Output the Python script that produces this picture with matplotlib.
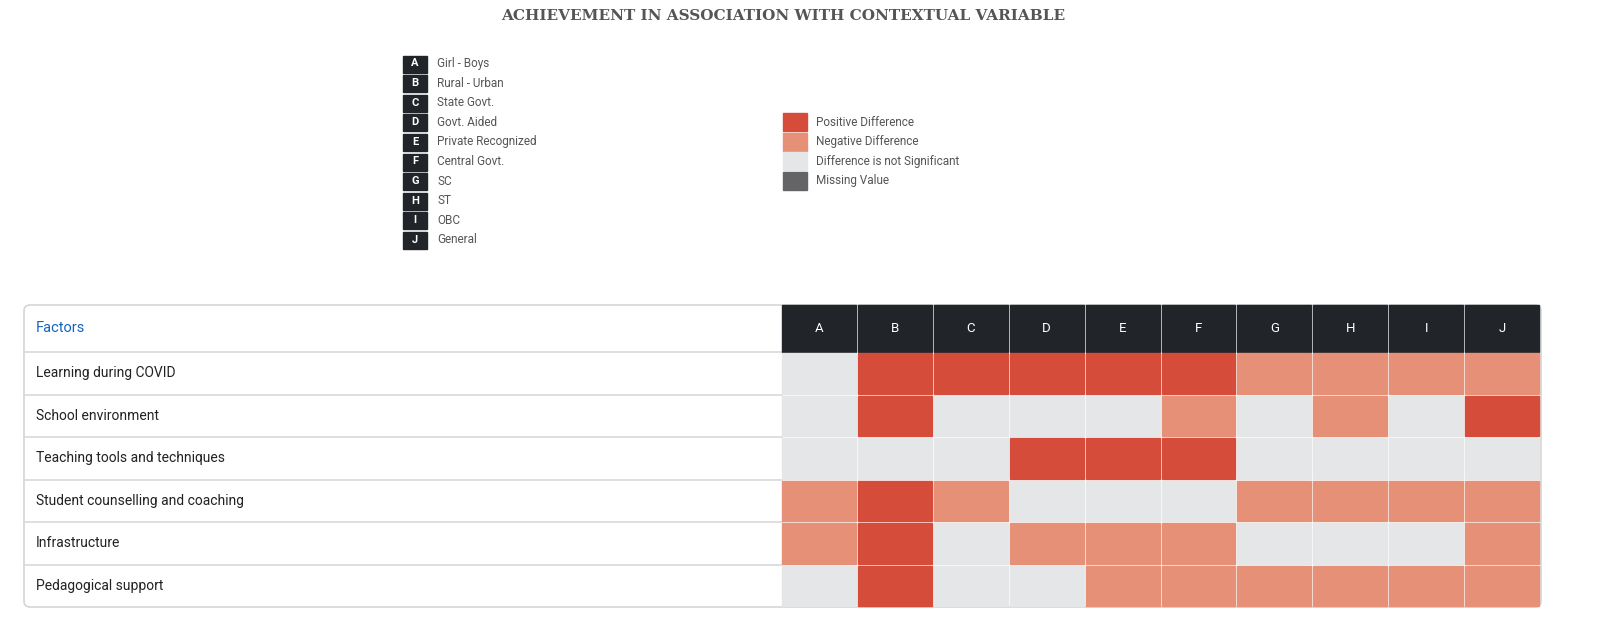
import matplotlib
matplotlib.use("Agg")
import matplotlib.pyplot as plt
from matplotlib.patches import Rectangle, FancyBboxPatch

plt.rcParams["font.family"] = ["Roboto", "DejaVu Sans"]

CODES = ["A", "B", "C", "D", "E", "F", "G", "H", "I", "J"]
CODE_NAMES = ["Girl - Boys", "Rural - Urban", "State Govt.", "Govt. Aided",
              "Private Recognized", "Central Govt.", "SC", "ST", "OBC", "General"]
FACTORS = ["Learning during COVID", "School environment",
           "Teaching tools and techniques", "Student counselling and coaching",
           "Infrastructure", "Pedagogical support"]
# P = positive, N = negative, S = not significant, M = missing
RESULTS = [
    "SPPPPPNNNN",
    "SPSSSNSNSP",
    "SSSPPPSSSS",
    "NPNSSSNNNN",
    "NPSNNNSSSN",
    "SPSSNNNNNN",
]
STATUS_LABELS = ["Positive Difference", "Negative Difference",
                 "Difference is not Significant", "Missing Value"]
STATUS_KEYS = ["P", "N", "S", "M"]

COLORS = {"P": "#D64C3B", "N": "#E69177", "S": "#E5E6E8", "M": "#646466"}
DARK = "#212428"
W, H = 1603, 635

fig = plt.figure(figsize=(W / 100, H / 100), dpi=100)
ax = fig.add_axes([0, 0, 1, 1])
ax.set_xlim(0, W)
ax.set_ylim(H, 0)
ax.axis("off")

ax.text(783, 16, "ACHIEVEMENT IN ASSOCIATION WITH CONTEXTUAL VARIABLE",
        ha="center", va="center", fontsize=11, fontweight="bold",
        color="#555555", family="DejaVu Serif")

# code legend
for i, (c, name) in enumerate(zip(CODES, CODE_NAMES)):
    y = 63.5 + i * 19.6
    ax.add_patch(Rectangle((403, y - 8), 24, 17, color=DARK))
    ax.text(415, y, c, ha="center", va="center", color="white",
            fontsize=8, fontweight="bold")
    ax.text(437, y, name, ha="left", va="center", color="#555555", fontsize=8.5)

# status legend
for i, (k, lab) in enumerate(zip(STATUS_KEYS, STATUS_LABELS)):
    y = 122 + i * 19.6
    ax.add_patch(Rectangle((783, y - 9), 24, 18, color=COLORS[k]))
    ax.text(816, y, lab, ha="left", va="center", color="#555555", fontsize=8.5)

# table
left, right, top, bottom = 24, 1541, 305, 607
head_h = 47
row_h = (bottom - top - head_h) / len(FACTORS)
col0 = 782
col_w = (right - col0) / len(CODES)

ax.add_patch(FancyBboxPatch((left, top), right - left, bottom - top,
                            boxstyle="round,pad=0,rounding_size=6",
                            fc="white", ec="#D5D5D5", lw=1.2, zorder=0))
ax.text(36, top + head_h / 2, "Factors", ha="left", va="center",
        color="#1565C0", fontsize=10.5)
for j, c in enumerate(CODES):
    x = col0 + j * col_w
    ax.add_patch(Rectangle((x, top), col_w - 2, head_h, color=DARK, zorder=2))
    ax.text(x + col_w / 2 - 1, top + head_h / 2, c, ha="center", va="center",
            color="white", fontsize=9.5, zorder=3)

for i, (f, row) in enumerate(zip(FACTORS, RESULTS)):
    y = top + head_h + i * row_h
    ax.plot([left, col0], [y, y], color="#D9D9D9", lw=1.2, zorder=1)
    ax.text(36, y + row_h / 2, f, ha="left", va="center",
            color="#222222", fontsize=10)
    for j, k in enumerate(row):
        x = col0 + j * col_w
        ax.add_patch(Rectangle((x, y + 1), col_w - 2, row_h - 2,
                               color=COLORS[k], zorder=2))

fig.savefig("out.png", dpi=100)
